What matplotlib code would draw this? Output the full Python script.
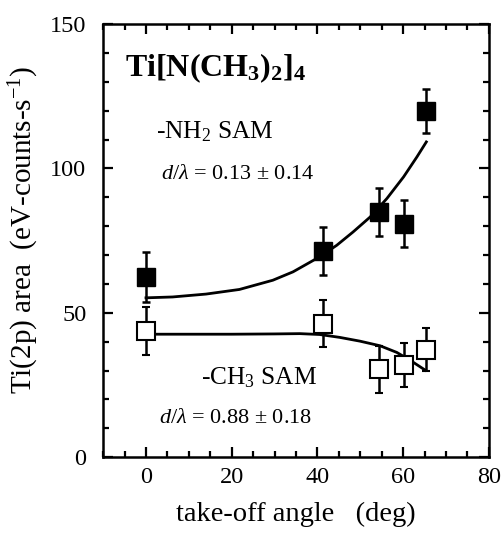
import numpy as np
import matplotlib.pyplot as plt
from matplotlib.ticker import MultipleLocator

plt.rcParams['font.family'] = ['Liberation Serif', 'DejaVu Serif']
plt.rcParams['mathtext.fontset'] = 'custom'
plt.rcParams['mathtext.rm'] = 'Liberation Serif'
plt.rcParams['mathtext.it'] = 'Liberation Serif:italic'
plt.rcParams['mathtext.bf'] = 'Liberation Serif:bold'

# 数据：-NH2 SAM（实心）
nh2_angle = [0, 41.3, 54.4, 60.1, 65.3]
nh2_area = [62.5, 71.5, 85.0, 80.9, 119.8]
nh2_err = [8.6, 8.3, 8.3, 8.1, 7.6]

# 数据：-CH3 SAM（空心）
ch3_angle = [0, 41.3, 54.4, 60.1, 65.3]
ch3_area = [43.6, 46.2, 30.4, 31.9, 37.3]
ch3_err = [8.3, 8.2, 8.0, 7.7, 7.6]

# 拟合曲线
nh2_fit_x = [0, 6.2, 14.0, 21.8, 29.6, 34.3, 40.5, 44.5, 48.3, 52.3, 56.2, 60.1, 63.2, 65.4]
nh2_fit_y = [55.2, 55.5, 56.5, 58.1, 61.3, 64.2, 69.4, 73.4, 78.0, 83.2, 89.6, 97.1, 104.0, 109.2]
ch3_fit_x = [0, 10, 20, 30, 35.9, 40.5, 45.2, 49.9, 54.6, 58.5, 61.6, 65.2]
ch3_fit_y = [42.6, 42.6, 42.6, 42.7, 42.8, 42.5, 41.5, 40.2, 38.6, 36.3, 33.6, 30.1]

fig = plt.figure(figsize=(5.03, 5.36), dpi=100)
ax = fig.add_axes([0.205, 0.147, 0.767, 0.808])

ax.plot(nh2_fit_x, nh2_fit_y, color='black', lw=2.0, zorder=2,
        solid_joinstyle='round')
ax.plot(ch3_fit_x, ch3_fit_y, color='black', lw=2.0, zorder=2,
        solid_joinstyle='round')

ax.errorbar(nh2_angle, nh2_area, yerr=nh2_err, fmt='s', color='black',
            mfc='black', mec='black', ms=12.5, elinewidth=1.8, capsize=3,
            capthick=1.8, zorder=3)
ax.errorbar(ch3_angle, ch3_area, yerr=ch3_err, fmt='s', color='black',
            mfc='white', mec='black', ms=12.5, mew=1.5, elinewidth=1.8,
            capsize=3, capthick=1.8, zorder=3)

ax.set_xlim(-10, 80)
ax.set_ylim(0, 150)
ax.xaxis.set_major_locator(MultipleLocator(20))
ax.xaxis.set_minor_locator(MultipleLocator(5))
ax.yaxis.set_major_locator(MultipleLocator(50))
ax.yaxis.set_minor_locator(MultipleLocator(10))
ax.tick_params(which='both', direction='in', top=True, right=True,
               width=1.6, labelsize=17.5)
ax.tick_params(which='major', length=7)
ax.tick_params(which='minor', length=4)
ax.tick_params(axis='x', pad=7)
ax.tick_params(axis='y', pad=12)
for s in ax.spines.values():
    s.set_linewidth(1.8)

ax.set_xlabel('take-off angle   (deg)', fontsize=20.5, labelpad=10)
ax.set_ylabel(r'Ti(2p) area  (eV-counts-s$^{-1}$)', fontsize=21)
ax.yaxis.set_label_coords(-0.16, 0.525)

ax.text(-4.9, 132, r'Ti[N(CH$_\mathbf{3}$)$_\mathbf{2}$]$_\mathbf{4}$',
        fontsize=23, fontweight='bold')
ax.text(2.3, 110.5, r'-NH$_2$ SAM', fontsize=18.3)
ax.text(3.5, 96.3, r'$d/\lambda$ = 0.13 $\pm$ 0.14', fontsize=16)
ax.text(12.9, 25.3, r'-CH$_3$ SAM', fontsize=18.3)
ax.text(3.0, 11.8, r'$d/\lambda$ = 0.88 $\pm$ 0.18', fontsize=16)

fig.savefig('out.png', dpi=100)
